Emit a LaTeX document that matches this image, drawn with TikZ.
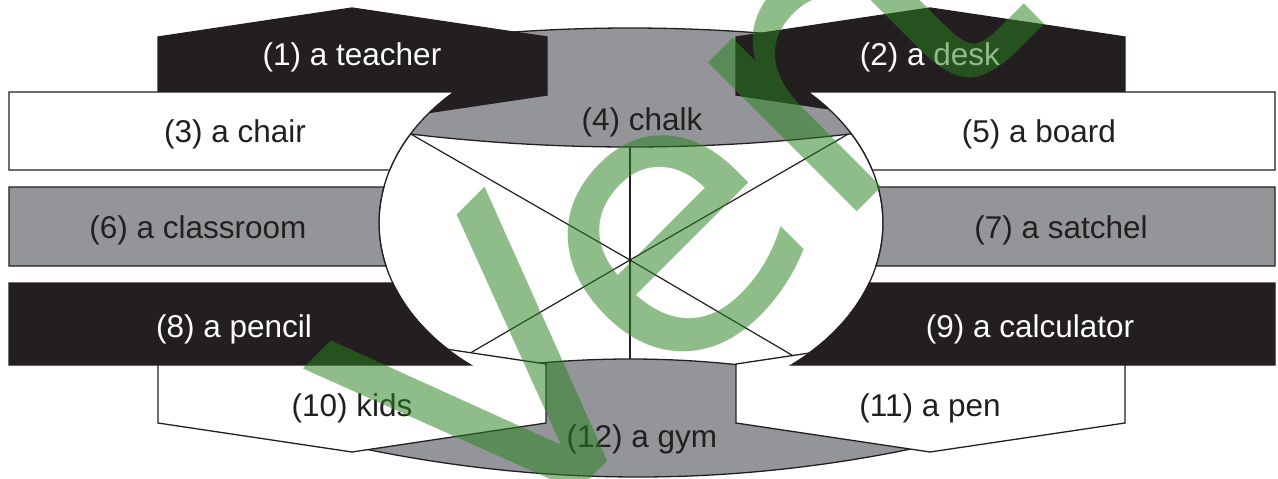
\documentclass[tikz,border=0pt]{standalone}
\usepackage{fontspec}
\setmainfont{Liberation Sans}
\newfontfamily\wmfont{DejaVu Sans}
\definecolor{dk}{HTML}{231F20}
\definecolor{gr}{HTML}{939598}
\definecolor{wm}{RGB}{40,130,30}
\def\ecx{631}\def\ecy{223}\def\ea{252}\def\eb{184}
\begin{document}
\begin{tikzpicture}[x=1pt,y=-1pt,line width=1.3pt,
  wshape/.style={fill=white,draw=dk},
  gshape/.style={fill=gr,draw=dk},
  bshape/.style={fill=dk,draw=dk},
  lbl/.style={font=\fontsize{31.5}{36}\selectfont,text=dk,inner sep=0pt},
  wlbl/.style={lbl,text=white},
  link/.style={draw=dk,line width=1.2pt}]
\useasboundingbox (0,0) rectangle (1278,479);
\fill[white] (0,0) rectangle (1278,479);
% central ellipse
\filldraw[wshape] plot[variable=\t,domain=0:360,samples=181] ({\ecx+\ea*cos(\t)},{\ecy+\eb*sin(\t)}) -- cycle;
% cross lines
\coordinate (c) at (630,260);
\coordinate (ul) at (405.5,131);
\coordinate (ur) at (856.6,129.2);
\coordinate (ll) at (466,355.5);
\coordinate (lr) at (796,357.5);
\coordinate (up) at (630,140);
\coordinate (dn) at (630,370);
\draw[link] (c) -- (ul);
\draw[link] (c) -- (ur);
\draw[link] (c) -- (ll);
\draw[link] (c) -- (lr);
\draw[link] (c) -- (up);
\draw[link] (c) -- (dn);
% chalk
\filldraw[gshape] plot[variable=\t,domain=400:860,samples=60] (\t,{28+((\t-630)/58)^2})
  -- plot[variable=\t,domain=860:400,samples=60] (\t,{147-((\t-630)/61)^2}) -- cycle;
% gym
\filldraw[gshape] plot[variable=\t,domain=355:925,samples=60] (\t,{359+((\t-630)/45)^2})
  -- plot[variable=\t,domain=925:355,samples=60] (\t,{477-((\t-638)/51.6)^2}) -- cycle;
% hexagons
\filldraw[bshape] (158,37) -- (352,8) -- (547,37) -- (547,95) -- (352,124) -- (158,95) -- cycle;
\filldraw[bshape] (736,37) -- (930,8) -- (1125,37) -- (1125,95) -- (930,124) -- (736,95) -- cycle;
\filldraw[wshape] (158,364) -- (352,335) -- (546,364) -- (546,423) -- (352,452) -- (158,423) -- cycle;
\filldraw[wshape] (736,364) -- (930,335) -- (1125,364) -- (1125,423) -- (930,452) -- (736,423) -- cycle;
% left boxes
\filldraw[wshape] (9,92) -- plot[variable=\t,domain=92:170,samples=40] ({\ecx-\ea*sqrt(1-((\t-\ecy)/\eb)^2)},\t) -- (9,170) -- cycle;
\filldraw[gshape] (9,187) -- plot[variable=\t,domain=187:266,samples=40] ({\ecx-\ea*sqrt(1-((\t-\ecy)/\eb)^2)},\t) -- (9,266) -- cycle;
\filldraw[bshape] (9,283) -- plot[variable=\t,domain=283:365,samples=50] ({\ecx-\ea*sqrt(1-((\t-\ecy)/\eb)^2)},\t) -- (9,365) -- cycle;
% right boxes
\filldraw[wshape] (1275,92) -- plot[variable=\t,domain=92:170,samples=40] ({\ecx+\ea*sqrt(1-((\t-\ecy)/\eb)^2)},\t) -- (1275,170) -- cycle;
\filldraw[gshape] (1275,187) -- plot[variable=\t,domain=187:266,samples=40] ({\ecx+\ea*sqrt(1-((\t-\ecy)/\eb)^2)},\t) -- (1275,266) -- cycle;
\filldraw[bshape] (1275,283) -- plot[variable=\t,domain=283:365,samples=50] ({\ecx+\ea*sqrt(1-((\t-\ecy)/\eb)^2)},\t) -- (1275,365) -- cycle;
% labels
\node[wlbl] (n1) at (352,57) {(1) a teacher};
\node[wlbl] (n2) at (930,57) {(2) a desk};
\node[lbl] (n3) at (235,134) {(3) a chair};
\node[lbl] (n4) at (642,122) {(4) chalk};
\node[lbl] (n5) at (1039,134) {(5) a board};
\node[lbl] (n6) at (198,230) {(6) a classroom};
\node[lbl] (n7) at (1061,230) {(7) a satchel};
\node[wlbl] (n8) at (234,329) {(8) a pencil};
\node[wlbl] (n9) at (1030,329) {(9) a calculator};
\node[lbl] (n10) at (352,408) {(10) kids};
\node[lbl] (n11) at (930,408) {(11) a pen};
\node[lbl] (n12) at (642,439) {(12) a gym};
% watermark
\node[font=\wmfont\fontsize{385}{385}\selectfont,text=wm,text opacity=0.52,rotate=45,anchor=base west,inner sep=0pt] (wmk) at (499,570) {Vert};
\end{tikzpicture}
\end{document}
